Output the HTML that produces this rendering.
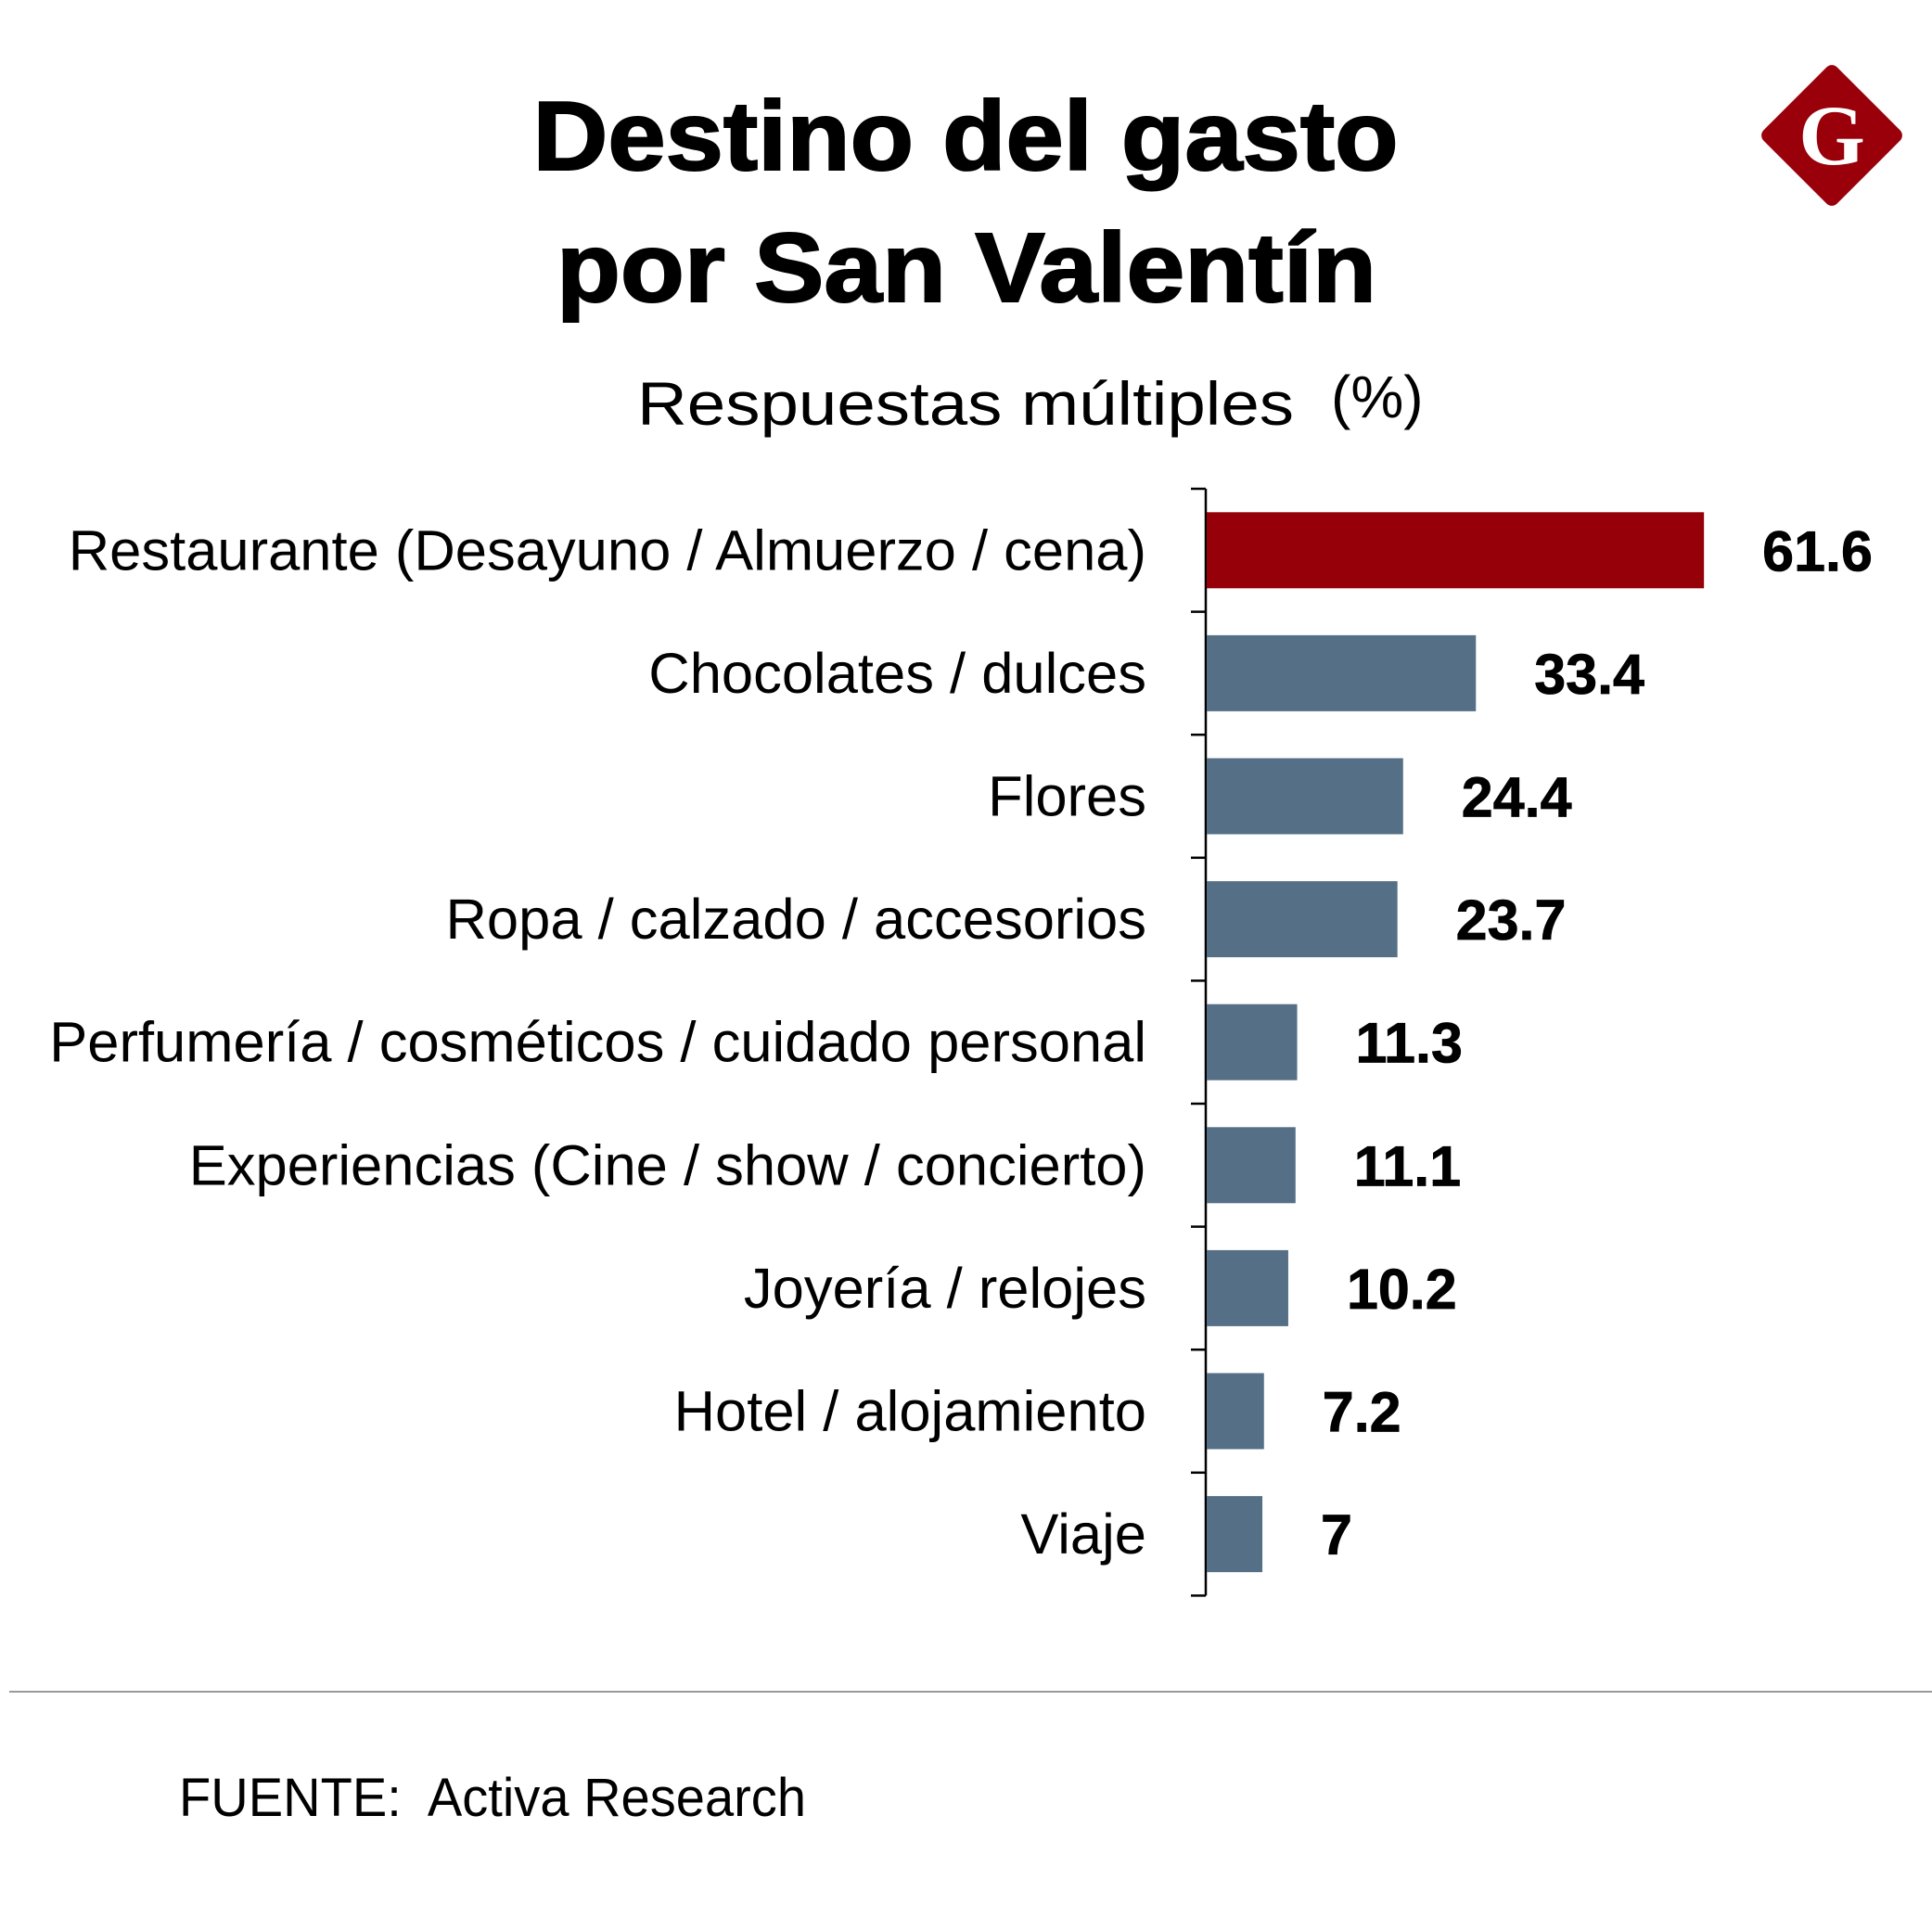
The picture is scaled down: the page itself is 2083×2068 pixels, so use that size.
<!DOCTYPE html>
<html><head><meta charset="utf-8"><style>
html,body{margin:0;padding:0;background:#fff;}
svg{display:block;font-family:"Liberation Sans",sans-serif;}
</style></head><body>
<svg id="chart" width="2083" height="2068" viewBox="0 0 2083 2068" xmlns="http://www.w3.org/2000/svg">
<text x="1041" y="183" text-anchor="middle" font-size="106" font-weight="bold" stroke="#000" stroke-width="2" textLength="933" lengthAdjust="spacingAndGlyphs">Destino del gasto</text>
<text x="1042" y="325" text-anchor="middle" font-size="106" font-weight="bold" stroke="#000" stroke-width="2" textLength="884" lengthAdjust="spacingAndGlyphs">por San Valentín</text>
<text x="687" y="458" font-size="66" textLength="708" lengthAdjust="spacingAndGlyphs">Respuestas múltiples</text>
<text x="1435" y="450" font-size="64">(%)</text>
<g>
<rect x="1919" y="90" width="112" height="112" rx="8" fill="#990009" transform="rotate(45 1975 146)"/>
<text x="1975" y="177" text-anchor="middle" font-family="Liberation Serif,serif" font-weight="bold" font-size="92" fill="#fff">G</text>
</g>
<g id="bars"></g>
<line x1="10" y1="1824" x2="2083" y2="1824" stroke="#999" stroke-width="2"/>
<text x="193" y="1958" font-size="58" xml:space="preserve" textLength="676" lengthAdjust="spacingAndGlyphs">FUENTE:  Activa Research</text>
</svg>
<script>
const categories = ["Restaurante (Desayuno / Almuerzo / cena)","Chocolates / dulces","Flores","Ropa / calzado / accesorios","Perfumería / cosméticos / cuidado personal","Experiencias (Cine / show / concierto)","Joyería / relojes","Hotel / alojamiento","Viaje"];
const values = [61.6,33.4,24.4,23.7,11.3,11.1,10.2,7.2,7];
const valueLabels = ["61.6","33.4","24.4","23.7","11.3","11.1","10.2","7.2","7"];

const NS="http://www.w3.org/2000/svg";
const g=document.getElementById('bars');
const axisX=1300, top0=527, band=132.6, barH=82, pxPerUnit=8.72;
const x=v=>axisX+v*pxPerUnit;
const y=i=>top0+i*band;
function mk(t,a){const e=document.createElementNS(NS,t);for(const k in a)e.setAttribute(k,a[k]);g.appendChild(e);return e;}
const ax=mk('line',{x1:axisX,y1:y(0),x2:axisX,y2:y(categories.length),stroke:'#000','stroke-width':2.5});


for(let i=0;i<=categories.length;i++){
  const t=mk('line',{x1:axisX-16,y1:y(i),x2:axisX,y2:y(i),stroke:'#000','stroke-width':2.5});
  
  
}
categories.forEach((c,i)=>{
  const cy=y(i)+band/2;
  const r=mk('rect',{x:axisX+1,y:cy-barH/2,width:x(values[i])-axisX-1,height:barH,fill:i===0?'#960008':'#557086'});
  
  
  const l=mk('text',{x:1236,y:cy+21,'text-anchor':'end','font-size':61.5,fill:'#000'});
  l.textContent=c;
  
  
  const v=mk('text',{x:x(values[i])+63,y:cy+22,'font-size':61,'font-weight':'bold',fill:'#000',stroke:'#000','stroke-width':0.8});
  v.textContent=valueLabels[i];
  
  
});
</script>
</body></html>
